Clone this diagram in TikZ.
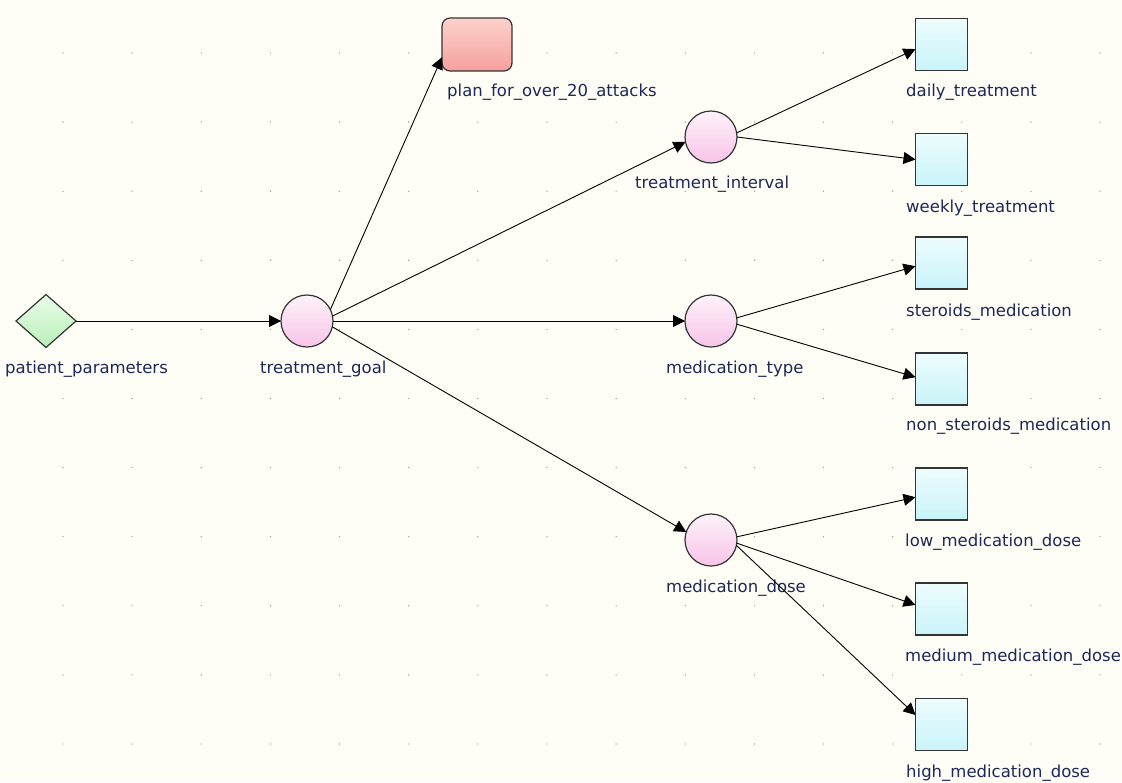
\documentclass[tikz,border=0pt]{standalone}
\usepackage{fontspec}
\setmainfont{DejaVu Sans}
\usetikzlibrary{shapes.geometric,arrows.meta}

\definecolor{bgcream}{RGB}{254,254,246}
\definecolor{gridgray}{RGB}{140,140,140}
\definecolor{edgegray}{RGB}{52,52,52}
\definecolor{labelnavy}{RGB}{28,40,88}
\definecolor{greentop}{RGB}{234,252,234}
\definecolor{greenbot}{RGB}{184,240,184}
\definecolor{pinktop}{RGB}{253,242,249}
\definecolor{pinkbot}{RGB}{248,196,232}
\definecolor{salmontop}{RGB}{252,210,202}
\definecolor{salmonbot}{RGB}{246,160,158}
\definecolor{cyantop}{RGB}{238,252,253}
\definecolor{cyanbot}{RGB}{200,244,250}

\begin{document}
\begin{tikzpicture}[x=1pt,y=-1pt,
  base/.style={draw=edgegray,line width=1.2pt,inner sep=0pt,outer sep=0pt},
  decision/.style={base,diamond,minimum width=60pt,minimum height=53pt,top color=greentop,bottom color=greenbot},
  chance/.style={base,circle,minimum size=52pt,top color=pinktop,bottom color=pinkbot},
  goal/.style={base,rectangle,rounded corners=8pt,minimum width=70pt,minimum height=53pt,top color=salmontop,bottom color=salmonbot},
  state/.style={base,rectangle,minimum size=52pt,top color=cyantop,bottom color=cyanbot},
  caption/.style={anchor=mid west,inner sep=0pt,text=labelnavy,font=\fontsize{16.5}{19}\selectfont},
  link/.style={draw=black,line width=0.9pt,-{Triangle[length=12pt,width=12pt]}},
]
% canvas and dotted grid
\useasboundingbox (0,0) rectangle (1122,782);
\fill[bgcream] (0,0) rectangle (1122,782);
\foreach \i in {0,...,15}
  \foreach \j in {0,...,10}
    \fill[gridgray] ({63+69.14*\i},{53+69.1*\j}) circle (0.65pt);

% nodes
\node[decision] (pp) at (46,321) {};
\node[chance] (tg) at (307,321) {};
\node[goal] (plan) at (477,44.5) {};
\node[chance] (ti) at (711,137) {};
\node[chance] (mt) at (711,321) {};
\node[chance] (md) at (711,540) {};
\node[state] (daily) at (941.5,44.5) {};
\node[state] (weekly) at (941.5,159.5) {};
\node[state] (ster) at (941.5,263) {};
\node[state] (nonster) at (941.5,379) {};
\node[state] (low) at (941.5,494) {};
\node[state] (medium) at (941.5,609) {};
\node[state] (high) at (941.5,724.5) {};

% captions
\node[caption] (pp-l) at (5,371) {patient\_parameters};
\node[caption] (tg-l) at (260,371) {treatment\_goal};
\node[caption] (plan-l) at (447,94) {plan\_for\_over\_20\_attacks};
\node[caption] (ti-l) at (635,186) {treatment\_interval};
\node[caption] (mt-l) at (666,371) {medication\_type};
\node[caption] (md-l) at (666,590) {medication\_dose};
\node[caption] (daily-l) at (906,94) {daily\_treatment};
\node[caption] (weekly-l) at (906,210) {weekly\_treatment};
\node[caption] (ster-l) at (906,313.5) {steroids\_medication};
\node[caption] (nonster-l) at (906,428) {non\_steroids\_medication};
\node[caption] (low-l) at (905,544) {low\_medication\_dose};
\node[caption] (medium-l) at (905,659) {medium\_medication\_dose};
\node[caption] (high-l) at (906,775) {high\_medication\_dose};

% links
\draw[link] (pp.east) -- (tg.west);
\draw[link] (tg.26) -- (plan.200);
\draw[link] (tg.11) -- (ti.191);
\draw[link] (tg.east) -- (mt.west);
\draw[link] (tg.347) -- (md.162);
\draw[link] (ti.9) -- (daily.190);
\draw[link] (ti.east) -- (weekly.west);
\draw[link] (mt.7) -- (ster.187);
\draw[link] (mt.353) -- (nonster.176);
\draw[link] (md.7) -- (low.187);
\draw[link] (md.353) -- (medium.171);
\draw[link] (md.348) -- (high.160);
\end{tikzpicture}
\end{document}
